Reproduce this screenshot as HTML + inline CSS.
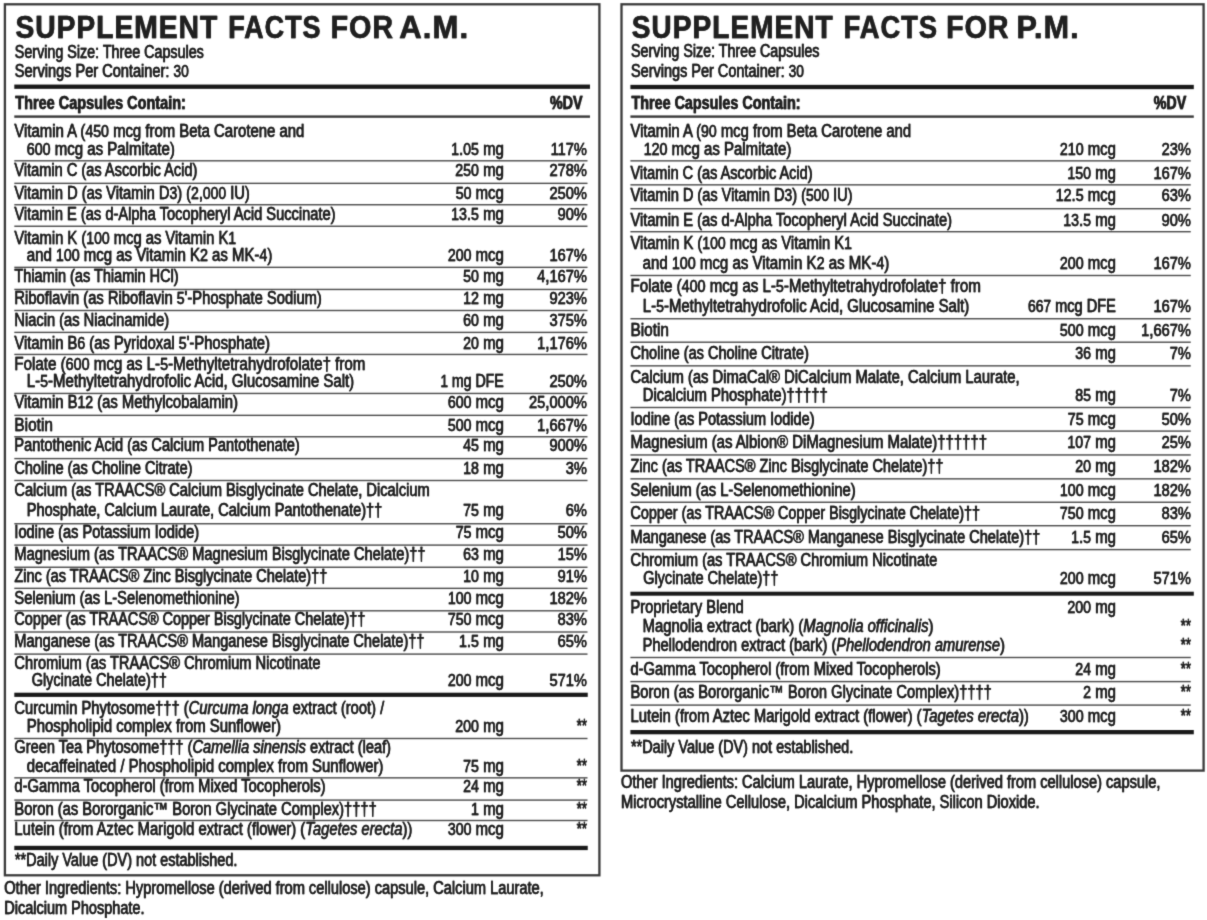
<!DOCTYPE html>
<html lang="en">
<head>
<meta charset="utf-8">
<title>Supplement Facts</title>
<style>
html,body{margin:0;padding:0;background:#fff;}
body{width:1207px;height:920px;overflow:hidden;font-family:"Liberation Sans",sans-serif;}
svg{display:block;position:absolute;left:0;top:0;}
svg text{font-family:"Liberation Sans",sans-serif;fill:#202020;stroke:#202020;stroke-width:0.3;vector-effect:non-scaling-stroke;white-space:pre;}
</style>
</head>
<body>
<svg width="1207" height="920" viewBox="0 0 1207 920">
<defs><filter id="bl" x="0" y="0" width="1207" height="920" filterUnits="userSpaceOnUse" color-interpolation-filters="sRGB"><feConvolveMatrix order="3" kernelMatrix="0.0192 0.1001 0.0192 0.1001 0.5228 0.1001 0.0192 0.1001 0.0192" edgeMode="duplicate" preserveAlpha="false"/></filter></defs>
<g filter="url(#bl)">
<rect x="4.90" y="4.30" width="594.50" height="871.00" fill="none" stroke="#3a3a3a" stroke-width="2.3"/>
<rect x="14.30" y="84.55" width="575.70" height="4.30" fill="#1a1a1a"/>
<rect x="14.30" y="115.40" width="575.70" height="2.40" fill="#3a3a3a"/>
<rect x="14.30" y="160.10" width="573.20" height="1.40" fill="#4a4a4a"/>
<rect x="14.30" y="182.65" width="573.20" height="1.40" fill="#4a4a4a"/>
<rect x="14.30" y="204.05" width="573.20" height="1.40" fill="#4a4a4a"/>
<rect x="14.30" y="225.55" width="573.20" height="1.40" fill="#4a4a4a"/>
<rect x="14.30" y="266.65" width="573.20" height="1.40" fill="#4a4a4a"/>
<rect x="14.30" y="288.75" width="573.20" height="1.40" fill="#4a4a4a"/>
<rect x="14.30" y="309.80" width="573.20" height="1.40" fill="#4a4a4a"/>
<rect x="14.30" y="331.70" width="573.20" height="1.40" fill="#4a4a4a"/>
<rect x="14.30" y="353.75" width="573.20" height="1.40" fill="#4a4a4a"/>
<rect x="14.30" y="392.75" width="573.20" height="1.40" fill="#4a4a4a"/>
<rect x="14.30" y="414.65" width="573.20" height="1.40" fill="#4a4a4a"/>
<rect x="14.30" y="436.05" width="573.20" height="1.40" fill="#4a4a4a"/>
<rect x="14.30" y="457.90" width="573.20" height="1.40" fill="#4a4a4a"/>
<rect x="14.30" y="479.80" width="573.20" height="1.40" fill="#4a4a4a"/>
<rect x="14.30" y="523.05" width="573.20" height="1.40" fill="#4a4a4a"/>
<rect x="14.30" y="544.40" width="573.20" height="1.40" fill="#4a4a4a"/>
<rect x="14.30" y="566.55" width="573.20" height="1.40" fill="#4a4a4a"/>
<rect x="14.30" y="587.65" width="573.20" height="1.40" fill="#4a4a4a"/>
<rect x="14.30" y="610.10" width="573.20" height="1.40" fill="#4a4a4a"/>
<rect x="14.30" y="631.30" width="573.20" height="1.40" fill="#4a4a4a"/>
<rect x="14.30" y="653.40" width="573.20" height="1.40" fill="#4a4a4a"/>
<rect x="14.30" y="692.70" width="573.45" height="4.20" fill="#1a1a1a"/>
<rect x="14.30" y="737.80" width="573.20" height="1.40" fill="#4a4a4a"/>
<rect x="14.30" y="777.15" width="573.20" height="1.40" fill="#4a4a4a"/>
<rect x="14.30" y="799.40" width="573.20" height="1.40" fill="#4a4a4a"/>
<rect x="14.30" y="819.80" width="573.20" height="1.40" fill="#4a4a4a"/>
<rect x="14.30" y="845.80" width="573.45" height="4.30" fill="#1a1a1a"/>
<rect x="621.50" y="4.30" width="582.10" height="766.30" fill="none" stroke="#3a3a3a" stroke-width="2.3"/>
<rect x="630.40" y="84.85" width="563.40" height="4.30" fill="#1a1a1a"/>
<rect x="630.40" y="115.40" width="563.40" height="2.40" fill="#3a3a3a"/>
<rect x="630.40" y="160.15" width="560.35" height="1.40" fill="#4a4a4a"/>
<rect x="630.40" y="184.15" width="560.35" height="1.40" fill="#4a4a4a"/>
<rect x="630.40" y="208.00" width="560.35" height="1.40" fill="#4a4a4a"/>
<rect x="630.40" y="231.00" width="560.35" height="1.40" fill="#4a4a4a"/>
<rect x="630.40" y="274.80" width="560.35" height="1.40" fill="#4a4a4a"/>
<rect x="630.40" y="318.05" width="560.35" height="1.40" fill="#4a4a4a"/>
<rect x="630.40" y="341.50" width="560.35" height="1.40" fill="#4a4a4a"/>
<rect x="630.40" y="365.15" width="560.35" height="1.40" fill="#4a4a4a"/>
<rect x="630.40" y="406.80" width="560.35" height="1.40" fill="#4a4a4a"/>
<rect x="630.40" y="430.40" width="560.35" height="1.40" fill="#4a4a4a"/>
<rect x="630.40" y="454.25" width="560.35" height="1.40" fill="#4a4a4a"/>
<rect x="630.40" y="478.15" width="560.35" height="1.40" fill="#4a4a4a"/>
<rect x="630.40" y="501.55" width="560.35" height="1.40" fill="#4a4a4a"/>
<rect x="630.40" y="525.00" width="560.35" height="1.40" fill="#4a4a4a"/>
<rect x="630.40" y="548.90" width="560.35" height="1.40" fill="#4a4a4a"/>
<rect x="630.40" y="591.70" width="563.40" height="4.00" fill="#1a1a1a"/>
<rect x="630.40" y="656.80" width="560.35" height="1.40" fill="#4a4a4a"/>
<rect x="630.40" y="680.90" width="560.35" height="1.40" fill="#4a4a4a"/>
<rect x="630.40" y="704.40" width="560.35" height="1.40" fill="#4a4a4a"/>
<rect x="630.40" y="730.00" width="563.40" height="4.30" fill="#1a1a1a"/>
<g id="T" transform="translate(-0.190,0)">
<text transform="translate(15.44,37.50) scale(0.9216,1)" font-size="30.6" font-weight="bold" fill="#1a1a1a" stroke="#1a1a1a" letter-spacing="1.1" stroke-width="1.35">SUPPLEMENT</text>
<text transform="translate(228.19,37.50) scale(0.8821,1)" font-size="30.6" font-weight="bold" fill="#1a1a1a" stroke="#1a1a1a" letter-spacing="1.1" stroke-width="1.35">FACTS</text>
<text transform="translate(330.58,37.50) scale(0.9358,1)" font-size="30.6" font-weight="bold" fill="#1a1a1a" stroke="#1a1a1a" letter-spacing="1.1" stroke-width="1.35">FOR</text>
<text transform="translate(399.23,37.50) scale(1.0150,1)" font-size="30.6" font-weight="bold" fill="#1a1a1a" stroke="#1a1a1a" letter-spacing="1.1" stroke-width="1.35">A.M.</text>
<text transform="translate(14.80,57.65) scale(0.8137,1)" font-size="17.6">Serving Size: Three Capsules</text>
<text transform="translate(14.80,77.15) scale(0.8282,1)" font-size="17.6">Servings Per Container: <tspan font-size="16.72">30</tspan></text>
<text transform="translate(15.30,108.90) scale(0.8233,1)" font-size="17.6" font-weight="bold">Three Capsules Contain:</text>
<text transform="translate(550.00,108.90) scale(0.8105,1)" font-size="17.6" font-weight="bold">%DV</text>
<text transform="translate(14.40,137.00) scale(0.8467,1)" font-size="17.6">Vitamin A (<tspan font-size="16.72">450</tspan> mcg from Beta Carotene and</text>
<text transform="translate(26.80,154.80) scale(0.8532,1)" font-size="17.6"><tspan font-size="16.72">600</tspan> mcg as Palmitate)</text>
<text transform="translate(503.80,154.80) scale(0.8480,1)" font-size="17.6" text-anchor="end"><tspan font-size="16.72">1</tspan>.<tspan font-size="16.72">05</tspan> mg</text>
<text transform="translate(586.90,154.80) scale(0.8740,1)" font-size="17.6" text-anchor="end"><tspan font-size="16.72">117%</tspan></text>
<text transform="translate(14.40,176.05) scale(0.8293,1)" font-size="17.6">Vitamin C (as Ascorbic Acid)</text>
<text transform="translate(503.80,176.05) scale(0.8480,1)" font-size="17.6" text-anchor="end"><tspan font-size="16.72">250</tspan> mg</text>
<text transform="translate(586.90,176.05) scale(0.8740,1)" font-size="17.6" text-anchor="end"><tspan font-size="16.72">278%</tspan></text>
<text transform="translate(14.40,198.80) scale(0.8337,1)" font-size="17.6">Vitamin D (as Vitamin D<tspan font-size="16.72">3</tspan>) (<tspan font-size="16.72">2</tspan>,<tspan font-size="16.72">000</tspan> IU)</text>
<text transform="translate(503.80,198.80) scale(0.8480,1)" font-size="17.6" text-anchor="end"><tspan font-size="16.72">50</tspan> mcg</text>
<text transform="translate(586.90,198.80) scale(0.8740,1)" font-size="17.6" text-anchor="end"><tspan font-size="16.72">250%</tspan></text>
<text transform="translate(14.40,220.10) scale(0.8328,1)" font-size="17.6">Vitamin E (as d-Alpha Tocopheryl Acid Succinate)</text>
<text transform="translate(503.80,220.10) scale(0.8480,1)" font-size="17.6" text-anchor="end"><tspan font-size="16.72">13</tspan>.<tspan font-size="16.72">5</tspan> mg</text>
<text transform="translate(586.90,220.10) scale(0.8740,1)" font-size="17.6" text-anchor="end"><tspan font-size="16.72">90%</tspan></text>
<text transform="translate(14.40,243.90) scale(0.8387,1)" font-size="17.6">Vitamin K (<tspan font-size="16.72">100</tspan> mcg as Vitamin K<tspan font-size="16.72">1</tspan></text>
<text transform="translate(26.80,261.40) scale(0.8507,1)" font-size="17.6">and <tspan font-size="16.72">100</tspan> mcg as Vitamin K<tspan font-size="16.72">2</tspan> as MK-<tspan font-size="16.72">4</tspan>)</text>
<text transform="translate(503.80,261.40) scale(0.8480,1)" font-size="17.6" text-anchor="end"><tspan font-size="16.72">200</tspan> mcg</text>
<text transform="translate(586.90,261.40) scale(0.8740,1)" font-size="17.6" text-anchor="end"><tspan font-size="16.72">167%</tspan></text>
<text transform="translate(14.40,282.15) scale(0.8248,1)" font-size="17.6">Thiamin (as Thiamin HCl)</text>
<text transform="translate(503.80,282.15) scale(0.8480,1)" font-size="17.6" text-anchor="end"><tspan font-size="16.72">50</tspan> mg</text>
<text transform="translate(586.90,282.15) scale(0.8740,1)" font-size="17.6" text-anchor="end"><tspan font-size="16.72">4</tspan>,<tspan font-size="16.72">167%</tspan></text>
<text transform="translate(14.40,304.40) scale(0.8385,1)" font-size="17.6">Riboflavin (as Riboflavin <tspan font-size="16.72">5</tspan>&#x27;-Phosphate Sodium)</text>
<text transform="translate(503.80,304.40) scale(0.8480,1)" font-size="17.6" text-anchor="end"><tspan font-size="16.72">12</tspan> mg</text>
<text transform="translate(586.90,304.40) scale(0.8740,1)" font-size="17.6" text-anchor="end"><tspan font-size="16.72">923%</tspan></text>
<text transform="translate(14.40,325.80) scale(0.8329,1)" font-size="17.6">Niacin (as Niacinamide)</text>
<text transform="translate(503.80,325.80) scale(0.8480,1)" font-size="17.6" text-anchor="end"><tspan font-size="16.72">60</tspan> mg</text>
<text transform="translate(586.90,325.80) scale(0.8740,1)" font-size="17.6" text-anchor="end"><tspan font-size="16.72">375%</tspan></text>
<text transform="translate(14.40,348.55) scale(0.8397,1)" font-size="17.6">Vitamin B<tspan font-size="16.72">6</tspan> (as Pyridoxal <tspan font-size="16.72">5</tspan>&#x27;-Phosphate)</text>
<text transform="translate(503.80,348.55) scale(0.8480,1)" font-size="17.6" text-anchor="end"><tspan font-size="16.72">20</tspan> mg</text>
<text transform="translate(586.90,348.55) scale(0.8740,1)" font-size="17.6" text-anchor="end"><tspan font-size="16.72">1</tspan>,<tspan font-size="16.72">176%</tspan></text>
<text transform="translate(14.40,369.80) scale(0.8591,1)" font-size="17.6">Folate (<tspan font-size="16.72">600</tspan> mcg as L-<tspan font-size="16.72">5</tspan>-Methyltetrahydrofolate† from</text>
<text transform="translate(26.80,387.20) scale(0.8512,1)" font-size="17.6">L-<tspan font-size="16.72">5</tspan>-Methyltetrahydrofolic Acid, Glucosamine Salt)</text>
<text transform="translate(440.50,387.20) scale(0.8040,1)" font-size="17.6"><tspan font-size="16.72">1</tspan> mg DFE</text>
<text transform="translate(586.90,387.20) scale(0.8740,1)" font-size="17.6" text-anchor="end"><tspan font-size="16.72">250%</tspan></text>
<text transform="translate(14.40,408.15) scale(0.8421,1)" font-size="17.6">Vitamin B<tspan font-size="16.72">12</tspan> (as Methylcobalamin)</text>
<text transform="translate(503.80,408.15) scale(0.8480,1)" font-size="17.6" text-anchor="end"><tspan font-size="16.72">600</tspan> mcg</text>
<text transform="translate(586.90,408.15) scale(0.8740,1)" font-size="17.6" text-anchor="end"><tspan font-size="16.72">25</tspan>,<tspan font-size="16.72">000%</tspan></text>
<text transform="translate(14.40,430.65) scale(0.8756,1)" font-size="17.6">Biotin</text>
<text transform="translate(503.80,430.65) scale(0.8480,1)" font-size="17.6" text-anchor="end"><tspan font-size="16.72">500</tspan> mcg</text>
<text transform="translate(586.90,430.65) scale(0.8740,1)" font-size="17.6" text-anchor="end"><tspan font-size="16.72">1</tspan>,<tspan font-size="16.72">667%</tspan></text>
<text transform="translate(14.40,451.05) scale(0.8292,1)" font-size="17.6">Pantothenic Acid (as Calcium Pantothenate)</text>
<text transform="translate(503.80,451.05) scale(0.8480,1)" font-size="17.6" text-anchor="end"><tspan font-size="16.72">45</tspan> mg</text>
<text transform="translate(586.90,451.05) scale(0.8740,1)" font-size="17.6" text-anchor="end"><tspan font-size="16.72">900%</tspan></text>
<text transform="translate(14.40,473.90) scale(0.8236,1)" font-size="17.6">Choline (as Choline Citrate)</text>
<text transform="translate(503.80,473.90) scale(0.8480,1)" font-size="17.6" text-anchor="end"><tspan font-size="16.72">18</tspan> mg</text>
<text transform="translate(586.90,473.90) scale(0.8740,1)" font-size="17.6" text-anchor="end"><tspan font-size="16.72">3%</tspan></text>
<text transform="translate(14.40,495.65) scale(0.8304,1)" font-size="17.6">Calcium (as TRAACS® Calcium Bisglycinate Chelate, Dicalcium</text>
<text transform="translate(26.80,516.40) scale(0.8267,1)" font-size="17.6">Phosphate, Calcium Laurate, Calcium Pantothenate)††</text>
<text transform="translate(503.80,516.40) scale(0.8480,1)" font-size="17.6" text-anchor="end"><tspan font-size="16.72">75</tspan> mg</text>
<text transform="translate(586.90,516.40) scale(0.8740,1)" font-size="17.6" text-anchor="end"><tspan font-size="16.72">6%</tspan></text>
<text transform="translate(14.40,537.70) scale(0.8285,1)" font-size="17.6">Iodine (as Potassium Iodide)</text>
<text transform="translate(503.80,537.70) scale(0.8480,1)" font-size="17.6" text-anchor="end"><tspan font-size="16.72">75</tspan> mcg</text>
<text transform="translate(586.90,537.70) scale(0.8740,1)" font-size="17.6" text-anchor="end"><tspan font-size="16.72">50%</tspan></text>
<text transform="translate(14.40,559.80) scale(0.8311,1)" font-size="17.6">Magnesium (as TRAACS® Magnesium Bisglycinate Chelate)††</text>
<text transform="translate(503.80,559.80) scale(0.8480,1)" font-size="17.6" text-anchor="end"><tspan font-size="16.72">63</tspan> mg</text>
<text transform="translate(586.90,559.80) scale(0.8740,1)" font-size="17.6" text-anchor="end"><tspan font-size="16.72">15%</tspan></text>
<text transform="translate(14.40,581.70) scale(0.8250,1)" font-size="17.6">Zinc (as TRAACS® Zinc Bisglycinate Chelate)††</text>
<text transform="translate(503.80,581.70) scale(0.8480,1)" font-size="17.6" text-anchor="end"><tspan font-size="16.72">10</tspan> mg</text>
<text transform="translate(586.90,581.70) scale(0.8740,1)" font-size="17.6" text-anchor="end"><tspan font-size="16.72">91%</tspan></text>
<text transform="translate(14.40,603.75) scale(0.8353,1)" font-size="17.6">Selenium (as L-Selenomethionine)</text>
<text transform="translate(503.80,603.75) scale(0.8480,1)" font-size="17.6" text-anchor="end"><tspan font-size="16.72">100</tspan> mcg</text>
<text transform="translate(586.90,603.75) scale(0.8740,1)" font-size="17.6" text-anchor="end"><tspan font-size="16.72">182%</tspan></text>
<text transform="translate(14.40,625.30) scale(0.8200,1)" font-size="17.6">Copper (as TRAACS® Copper Bisglycinate Chelate)††</text>
<text transform="translate(503.80,625.30) scale(0.8480,1)" font-size="17.6" text-anchor="end"><tspan font-size="16.72">750</tspan> mcg</text>
<text transform="translate(586.90,625.30) scale(0.8740,1)" font-size="17.6" text-anchor="end"><tspan font-size="16.72">83%</tspan></text>
<text transform="translate(14.40,646.90) scale(0.8262,1)" font-size="17.6">Manganese (as TRAACS® Manganese Bisglycinate Chelate)††</text>
<text transform="translate(503.80,646.90) scale(0.8480,1)" font-size="17.6" text-anchor="end"><tspan font-size="16.72">1</tspan>.<tspan font-size="16.72">5</tspan> mg</text>
<text transform="translate(586.90,646.90) scale(0.8740,1)" font-size="17.6" text-anchor="end"><tspan font-size="16.72">65%</tspan></text>
<text transform="translate(14.40,669.00) scale(0.8309,1)" font-size="17.6">Chromium (as TRAACS® Chromium Nicotinate</text>
<text transform="translate(31.70,686.40) scale(0.8229,1)" font-size="17.6">Glycinate Chelate)††</text>
<text transform="translate(503.80,686.40) scale(0.8480,1)" font-size="17.6" text-anchor="end"><tspan font-size="16.72">200</tspan> mcg</text>
<text transform="translate(586.90,686.40) scale(0.8740,1)" font-size="17.6" text-anchor="end"><tspan font-size="16.72">571%</tspan></text>
<text transform="translate(14.40,714.20) scale(0.8369,1)" font-size="17.6">Curcumin Phytosome††† (<tspan font-style="italic">Curcuma longa</tspan> extract (root) /</text>
<text transform="translate(26.80,732.15) scale(0.8471,1)" font-size="17.6">Phospholipid complex from Sunflower)</text>
<text transform="translate(503.80,732.15) scale(0.8480,1)" font-size="17.6" text-anchor="end"><tspan font-size="16.72">200</tspan> mg</text>
<text transform="translate(586.90,732.15) scale(0.7400,1)" font-size="17.6" text-anchor="end">**</text>
<text transform="translate(14.40,753.30) scale(0.8289,1)" font-size="17.6">Green Tea Phytosome††† (<tspan font-style="italic">Camellia sinensis</tspan> extract (leaf)</text>
<text transform="translate(26.80,771.55) scale(0.8490,1)" font-size="17.6">decaffeinated / Phospholipid complex from Sunflower)</text>
<text transform="translate(503.80,771.55) scale(0.8480,1)" font-size="17.6" text-anchor="end"><tspan font-size="16.72">75</tspan> mg</text>
<text transform="translate(586.90,771.55) scale(0.7400,1)" font-size="17.6" text-anchor="end">**</text>
<text transform="translate(14.40,792.40) scale(0.8367,1)" font-size="17.6">d-Gamma Tocopherol (from Mixed Tocopherols)</text>
<text transform="translate(503.80,792.40) scale(0.8480,1)" font-size="17.6" text-anchor="end"><tspan font-size="16.72">24</tspan> mg</text>
<text transform="translate(586.90,792.40) scale(0.7400,1)" font-size="17.6" text-anchor="end">**</text>
<text transform="translate(14.40,814.90) scale(0.8366,1)" font-size="17.6">Boron (as Bororganic™ Boron Glycinate Complex)††††</text>
<text transform="translate(503.80,814.90) scale(0.8480,1)" font-size="17.6" text-anchor="end"><tspan font-size="16.72">1</tspan> mg</text>
<text transform="translate(586.90,814.90) scale(0.7400,1)" font-size="17.6" text-anchor="end">**</text>
<text transform="translate(14.40,835.30) scale(0.8402,1)" font-size="17.6">Lutein (from Aztec Marigold extract (flower) (<tspan font-style="italic">Tagetes erecta</tspan>))</text>
<text transform="translate(503.80,835.30) scale(0.8480,1)" font-size="17.6" text-anchor="end"><tspan font-size="16.72">300</tspan> mcg</text>
<text transform="translate(586.90,835.30) scale(0.7400,1)" font-size="17.6" text-anchor="end">**</text>
<text transform="translate(14.90,865.70) scale(0.8221,1)" font-size="17.6">**Daily Value (DV) not established.</text>
<text transform="translate(4.30,894.40) scale(0.8309,1)" font-size="17.6">Other Ingredients: Hypromellose (derived from cellulose) capsule, Calcium Laurate,</text>
<text transform="translate(4.30,913.80) scale(0.8236,1)" font-size="17.6">Dicalcium Phosphate.</text>
<text transform="translate(631.69,37.50) scale(0.9182,1)" font-size="30.6" font-weight="bold" fill="#1a1a1a" stroke="#1a1a1a" letter-spacing="1.1" stroke-width="1.35">SUPPLEMENT</text>
<text transform="translate(843.67,37.50) scale(0.8919,1)" font-size="30.6" font-weight="bold" fill="#1a1a1a" stroke="#1a1a1a" letter-spacing="1.1" stroke-width="1.35">FACTS</text>
<text transform="translate(946.08,37.50) scale(0.9358,1)" font-size="30.6" font-weight="bold" fill="#1a1a1a" stroke="#1a1a1a" letter-spacing="1.1" stroke-width="1.35">FOR</text>
<text transform="translate(1016.46,37.50) scale(0.9982,1)" font-size="30.6" font-weight="bold" fill="#1a1a1a" stroke="#1a1a1a" letter-spacing="1.1" stroke-width="1.35">P.M.</text>
<text transform="translate(631.00,57.30) scale(0.8107,1)" font-size="17.6">Serving Size: Three Capsules</text>
<text transform="translate(631.00,76.75) scale(0.8225,1)" font-size="17.6">Servings Per Container: <tspan font-size="16.72">30</tspan></text>
<text transform="translate(631.50,108.80) scale(0.8163,1)" font-size="17.6" font-weight="bold">Three Capsules Contain:</text>
<text transform="translate(1153.75,108.80) scale(0.8105,1)" font-size="17.6" font-weight="bold">%DV</text>
<text transform="translate(630.50,137.15) scale(0.8422,1)" font-size="17.6">Vitamin A (<tspan font-size="16.72">90</tspan> mcg from Beta Carotene and</text>
<text transform="translate(643.70,155.00) scale(0.8509,1)" font-size="17.6"><tspan font-size="16.72">120</tspan> mcg as Palmitate)</text>
<text transform="translate(1115.90,155.00) scale(0.8480,1)" font-size="17.6" text-anchor="end"><tspan font-size="16.72">210</tspan> mcg</text>
<text transform="translate(1190.90,155.00) scale(0.8740,1)" font-size="17.6" text-anchor="end"><tspan font-size="16.72">23%</tspan></text>
<text transform="translate(630.50,178.90) scale(0.8254,1)" font-size="17.6">Vitamin C (as Ascorbic Acid)</text>
<text transform="translate(1115.90,178.90) scale(0.8480,1)" font-size="17.6" text-anchor="end"><tspan font-size="16.72">150</tspan> mg</text>
<text transform="translate(1190.90,178.90) scale(0.8740,1)" font-size="17.6" text-anchor="end"><tspan font-size="16.72">167%</tspan></text>
<text transform="translate(630.50,201.40) scale(0.8281,1)" font-size="17.6">Vitamin D (as Vitamin D<tspan font-size="16.72">3</tspan>) (<tspan font-size="16.72">500</tspan> IU)</text>
<text transform="translate(1115.90,201.40) scale(0.8480,1)" font-size="17.6" text-anchor="end"><tspan font-size="16.72">12</tspan>.<tspan font-size="16.72">5</tspan> mcg</text>
<text transform="translate(1190.90,201.40) scale(0.8740,1)" font-size="17.6" text-anchor="end"><tspan font-size="16.72">63%</tspan></text>
<text transform="translate(630.50,225.65) scale(0.8345,1)" font-size="17.6">Vitamin E (as d-Alpha Tocopheryl Acid Succinate)</text>
<text transform="translate(1115.90,225.65) scale(0.8480,1)" font-size="17.6" text-anchor="end"><tspan font-size="16.72">13</tspan>.<tspan font-size="16.72">5</tspan> mg</text>
<text transform="translate(1190.90,225.65) scale(0.8740,1)" font-size="17.6" text-anchor="end"><tspan font-size="16.72">90%</tspan></text>
<text transform="translate(630.50,249.05) scale(0.8383,1)" font-size="17.6">Vitamin K (<tspan font-size="16.72">100</tspan> mcg as Vitamin K<tspan font-size="16.72">1</tspan></text>
<text transform="translate(642.60,269.05) scale(0.8549,1)" font-size="17.6">and <tspan font-size="16.72">100</tspan> mcg as Vitamin K<tspan font-size="16.72">2</tspan> as MK-<tspan font-size="16.72">4</tspan>)</text>
<text transform="translate(1115.90,269.05) scale(0.8480,1)" font-size="17.6" text-anchor="end"><tspan font-size="16.72">200</tspan> mcg</text>
<text transform="translate(1190.90,269.05) scale(0.8740,1)" font-size="17.6" text-anchor="end"><tspan font-size="16.72">167%</tspan></text>
<text transform="translate(630.50,292.30) scale(0.8577,1)" font-size="17.6">Folate (<tspan font-size="16.72">400</tspan> mcg as L-<tspan font-size="16.72">5</tspan>-Methyltetrahydrofolate† from</text>
<text transform="translate(642.80,312.30) scale(0.8486,1)" font-size="17.6">L-<tspan font-size="16.72">5</tspan>-Methyltetrahydrofolic Acid, Glucosamine Salt)</text>
<text transform="translate(1028.00,312.30) scale(0.8282,1)" font-size="17.6"><tspan font-size="16.72">667</tspan> mcg DFE</text>
<text transform="translate(1190.90,312.30) scale(0.8740,1)" font-size="17.6" text-anchor="end"><tspan font-size="16.72">167%</tspan></text>
<text transform="translate(630.50,336.30) scale(0.8733,1)" font-size="17.6">Biotin</text>
<text transform="translate(1115.90,336.30) scale(0.8480,1)" font-size="17.6" text-anchor="end"><tspan font-size="16.72">500</tspan> mcg</text>
<text transform="translate(1190.90,336.30) scale(0.8740,1)" font-size="17.6" text-anchor="end"><tspan font-size="16.72">1</tspan>,<tspan font-size="16.72">667%</tspan></text>
<text transform="translate(630.50,359.30) scale(0.8254,1)" font-size="17.6">Choline (as Choline Citrate)</text>
<text transform="translate(1115.90,359.30) scale(0.8480,1)" font-size="17.6" text-anchor="end"><tspan font-size="16.72">36</tspan> mg</text>
<text transform="translate(1190.90,359.30) scale(0.8740,1)" font-size="17.6" text-anchor="end"><tspan font-size="16.72">7%</tspan></text>
<text transform="translate(630.50,382.80) scale(0.8396,1)" font-size="17.6">Calcium (as DimaCal® DiCalcium Malate, Calcium Laurate,</text>
<text transform="translate(642.80,401.40) scale(0.8399,1)" font-size="17.6">Dicalcium Phosphate)†††††</text>
<text transform="translate(1115.90,401.40) scale(0.8480,1)" font-size="17.6" text-anchor="end"><tspan font-size="16.72">85</tspan> mg</text>
<text transform="translate(1190.90,401.40) scale(0.8740,1)" font-size="17.6" text-anchor="end"><tspan font-size="16.72">7%</tspan></text>
<text transform="translate(630.50,424.65) scale(0.8258,1)" font-size="17.6">Iodine (as Potassium Iodide)</text>
<text transform="translate(1115.90,424.65) scale(0.8480,1)" font-size="17.6" text-anchor="end"><tspan font-size="16.72">75</tspan> mcg</text>
<text transform="translate(1190.90,424.65) scale(0.8740,1)" font-size="17.6" text-anchor="end"><tspan font-size="16.72">50%</tspan></text>
<text transform="translate(630.50,447.50) scale(0.8480,1)" font-size="17.6">Magnesium (as Albion® DiMagnesium Malate)††††††</text>
<text transform="translate(1115.90,447.50) scale(0.8480,1)" font-size="17.6" text-anchor="end"><tspan font-size="16.72">107</tspan> mg</text>
<text transform="translate(1190.90,447.50) scale(0.8740,1)" font-size="17.6" text-anchor="end"><tspan font-size="16.72">25%</tspan></text>
<text transform="translate(630.50,471.55) scale(0.8254,1)" font-size="17.6">Zinc (as TRAACS® Zinc Bisglycinate Chelate)††</text>
<text transform="translate(1115.90,471.55) scale(0.8480,1)" font-size="17.6" text-anchor="end"><tspan font-size="16.72">20</tspan> mg</text>
<text transform="translate(1190.90,471.55) scale(0.8740,1)" font-size="17.6" text-anchor="end"><tspan font-size="16.72">182%</tspan></text>
<text transform="translate(630.50,495.65) scale(0.8349,1)" font-size="17.6">Selenium (as L-Selenomethionine)</text>
<text transform="translate(1115.90,495.65) scale(0.8480,1)" font-size="17.6" text-anchor="end"><tspan font-size="16.72">100</tspan> mcg</text>
<text transform="translate(1190.90,495.65) scale(0.8740,1)" font-size="17.6" text-anchor="end"><tspan font-size="16.72">182%</tspan></text>
<text transform="translate(630.50,519.40) scale(0.8169,1)" font-size="17.6">Copper (as TRAACS® Copper Bisglycinate Chelate)††</text>
<text transform="translate(1115.90,519.40) scale(0.8480,1)" font-size="17.6" text-anchor="end"><tspan font-size="16.72">750</tspan> mcg</text>
<text transform="translate(1190.90,519.40) scale(0.8740,1)" font-size="17.6" text-anchor="end"><tspan font-size="16.72">83%</tspan></text>
<text transform="translate(630.50,542.80) scale(0.8250,1)" font-size="17.6">Manganese (as TRAACS® Manganese Bisglycinate Chelate)††</text>
<text transform="translate(1115.90,542.80) scale(0.8480,1)" font-size="17.6" text-anchor="end"><tspan font-size="16.72">1</tspan>.<tspan font-size="16.72">5</tspan> mg</text>
<text transform="translate(1190.90,542.80) scale(0.8740,1)" font-size="17.6" text-anchor="end"><tspan font-size="16.72">65%</tspan></text>
<text transform="translate(630.50,566.05) scale(0.8326,1)" font-size="17.6">Chromium (as TRAACS® Chromium Nicotinate</text>
<text transform="translate(643.20,584.05) scale(0.8229,1)" font-size="17.6">Glycinate Chelate)††</text>
<text transform="translate(1115.90,584.05) scale(0.8480,1)" font-size="17.6" text-anchor="end"><tspan font-size="16.72">200</tspan> mcg</text>
<text transform="translate(1190.90,584.05) scale(0.8740,1)" font-size="17.6" text-anchor="end"><tspan font-size="16.72">571%</tspan></text>
<text transform="translate(630.50,612.65) scale(0.8343,1)" font-size="17.6">Proprietary Blend</text>
<text transform="translate(1115.90,612.65) scale(0.8480,1)" font-size="17.6" text-anchor="end"><tspan font-size="16.72">200</tspan> mg</text>
<text transform="translate(642.60,631.55) scale(0.8430,1)" font-size="17.6">Magnolia extract (bark) (<tspan font-style="italic">Magnolia officinalis</tspan>)</text>
<text transform="translate(1190.90,631.55) scale(0.7400,1)" font-size="17.6" text-anchor="end">**</text>
<text transform="translate(642.60,651.05) scale(0.8323,1)" font-size="17.6">Phellodendron extract (bark) (<tspan font-style="italic">Phellodendron amurense</tspan>)</text>
<text transform="translate(1190.90,651.05) scale(0.7400,1)" font-size="17.6" text-anchor="end">**</text>
<text transform="translate(630.50,675.30) scale(0.8351,1)" font-size="17.6">d-Gamma Tocopherol (from Mixed Tocopherols)</text>
<text transform="translate(1115.90,675.30) scale(0.8480,1)" font-size="17.6" text-anchor="end"><tspan font-size="16.72">24</tspan> mg</text>
<text transform="translate(1190.90,675.30) scale(0.7400,1)" font-size="17.6" text-anchor="end">**</text>
<text transform="translate(630.50,697.65) scale(0.8352,1)" font-size="17.6">Boron (as Bororganic™ Boron Glycinate Complex)††††</text>
<text transform="translate(1115.90,697.65) scale(0.8480,1)" font-size="17.6" text-anchor="end"><tspan font-size="16.72">2</tspan> mg</text>
<text transform="translate(1190.90,697.65) scale(0.7400,1)" font-size="17.6" text-anchor="end">**</text>
<text transform="translate(630.50,721.75) scale(0.8416,1)" font-size="17.6">Lutein (from Aztec Marigold extract (flower) (<tspan font-style="italic">Tagetes erecta</tspan>))</text>
<text transform="translate(1115.90,721.75) scale(0.8480,1)" font-size="17.6" text-anchor="end"><tspan font-size="16.72">300</tspan> mcg</text>
<text transform="translate(1190.90,721.75) scale(0.7400,1)" font-size="17.6" text-anchor="end">**</text>
<text transform="translate(631.00,752.70) scale(0.8217,1)" font-size="17.6">**Daily Value (DV) not established.</text>
<text transform="translate(621.00,787.70) scale(0.8310,1)" font-size="17.6">Other Ingredients: Calcium Laurate, Hypromellose (derived from cellulose) capsule,</text>
<text transform="translate(621.00,807.50) scale(0.8317,1)" font-size="17.6">Microcrystalline Cellulose, Dicalcium Phosphate, Silicon Dioxide.</text>
</g>
<use href="#T" x="0.38"/>
</g>
</svg>
</body>
</html>
